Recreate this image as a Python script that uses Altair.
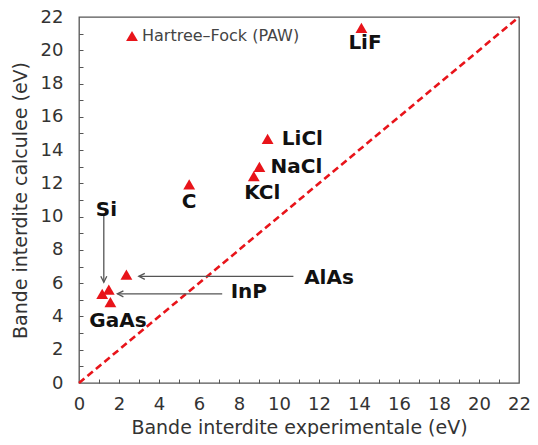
import altair as alt
import pandas as pd

# --- data -------------------------------------------------------------------
materials = ["LiF", "LiCl", "NaCl", "KCl", "C", "AlAs", "Si", "InP", "GaAs"]
gap_exp = [14.12, 9.43, 9.02, 8.74, 5.51, 2.37, 1.16, 1.49, 1.57]
gap_calc = [21.34, 14.68, 12.99, 12.43, 11.94, 6.52, 5.36, 5.62, 4.86]
series_name = "Hartree–Fock (PAW)"

label_names = ["LiF", "LiCl", "NaCl", "KCl", "C", "AlAs", "Si", "InP", "GaAs"]
label_x = [14.3, 11.17, 10.87, 9.16, 5.51, 12.5, 1.37, 8.49, 1.95]
label_y = [20.45, 14.67, 13.0, 11.4, 10.85, 6.3, 10.4, 5.44, 3.72]

arrow_x = [1.24, 10.72, 7.16]
arrow_y = [10.04, 6.41, 5.36]
arrow_x2 = [1.24, 2.99, 1.92]
arrow_y2 = [6.06, 6.41, 5.36]
arrow_dir = ["down", "left", "left"]

diag_x = [0, 22]
diag_y = [0, 22]

major_ticks = list(range(0, 23, 2))
minor_ticks = list(range(1, 22))

RED = "#e8141a"
FONT = "DejaVu Sans"

pts = pd.DataFrame({"exp": gap_exp, "calc": gap_calc, "mat": materials,
                    "series": [series_name] * len(materials)})
labs = pd.DataFrame({"x": label_x, "y": label_y, "name": label_names})
arrows = pd.DataFrame({"x": arrow_x, "y": arrow_y, "x2": arrow_x2, "y2": arrow_y2,
                       "dir": arrow_dir})
diag = pd.DataFrame({"x": diag_x, "y": diag_y})

xs = alt.Scale(domain=[0, 22], nice=False, zero=False)
ys = alt.Scale(domain=[0, 22], nice=False, zero=False)

label_axis_x = alt.Axis(values=major_ticks, ticks=False, domain=False, grid=False,
                        labelPadding=12, orient="bottom", labelFlush=False,
                        labelOverlap=False,
                        title="Bande interdite experimentale (eV)", titlePadding=5)
label_axis_y = alt.Axis(values=major_ticks, ticks=False, domain=False, grid=False,
                        labelPadding=16, orient="left", labelFlush=False,
                        labelOverlap=False,
                        title="Bande interdite calculee (eV)", titlePadding=10)
tick_axis_x = alt.Axis(values=minor_ticks, ticks=True, tickSize=4, offset=-4,
                       labels=False, domain=False, grid=False, title=None,
                       orient="bottom", tickColor="#555")
tick_axis_y = alt.Axis(values=minor_ticks, ticks=True, tickSize=4, offset=-4,
                       labels=False, domain=False, grid=False, title=None,
                       orient="left", tickColor="#555")

line = alt.Chart(diag).mark_line(color=RED, strokeDash=[7, 4], strokeWidth=2.6).encode(
    x=alt.X("x:Q", scale=xs, axis=label_axis_x),
    y=alt.Y("y:Q", scale=ys, axis=label_axis_y),
)

ticks_layer = alt.Chart(diag).mark_point(opacity=0).encode(
    x=alt.X("x:Q", scale=xs, axis=tick_axis_x),
    y=alt.Y("y:Q", scale=ys, axis=tick_axis_y),
)

rules = alt.Chart(arrows).mark_rule(color="#555", strokeWidth=1.3).encode(
    x=alt.X("x:Q", scale=xs, axis=None),
    y=alt.Y("y:Q", scale=ys, axis=None),
    x2="x2:Q",
    y2="y2:Q",
)

heads = alt.Chart(arrows).mark_point(filled=False, color="#555", strokeWidth=1.3,
                                     size=144, opacity=1).encode(
    x=alt.X("x2:Q", scale=xs, axis=None),
    y=alt.Y("y2:Q", scale=ys, axis=None),
    shape=alt.Shape("dir:N", legend=None,
                    scale=alt.Scale(domain=["down", "left"],
                                    range=["M -0.5 -1 L 0 0 L 0.5 -1",
                                           "M 1 -0.5 L 0 0 L 1 0.5"])),
)

points = alt.Chart(pts).mark_point(shape="triangle-up", filled=True, size=140,
                                   opacity=1).encode(
    x=alt.X("exp:Q", scale=xs, axis=None),
    y=alt.Y("calc:Q", scale=ys, axis=None),
    color=alt.Color("series:N", scale=alt.Scale(range=[RED]),
                    legend=alt.Legend(title=None, orient="none", legendX=45,
                                      legendY=11, symbolType="triangle-up",
                                      symbolSize=140, symbolFillColor=RED,
                                      symbolStrokeWidth=0,
                                      labelFont=FONT, labelFontSize=16,
                                      labelColor="#444", labelOffset=2,
                                      padding=0)),
)

texts = alt.Chart(labs).mark_text(font=FONT, fontWeight="bold", fontSize=20,
                                  color="#111").encode(
    x=alt.X("x:Q", scale=xs, axis=None),
    y=alt.Y("y:Q", scale=ys, axis=None),
    text="name:N",
)

chart = alt.layer(line, ticks_layer, rules, heads, points, texts).resolve_axis(
    x="independent", y="independent"
).properties(
    width=440, height=366,
    autosize=alt.AutoSizeParams(type="none"),
    padding={"left": 71, "top": 9, "right": 11, "bottom": 54},
).configure_view(
    stroke="#555", strokeWidth=1.3
).configure_axis(
    labelFont=FONT, labelFontSize=18, labelColor="#333",
    titleFont=FONT, titleFontSize=19, titleFontWeight="normal", titleColor="#333",
)

chart.save("out.html", embed_options={"renderer": "svg", "actions": False})
